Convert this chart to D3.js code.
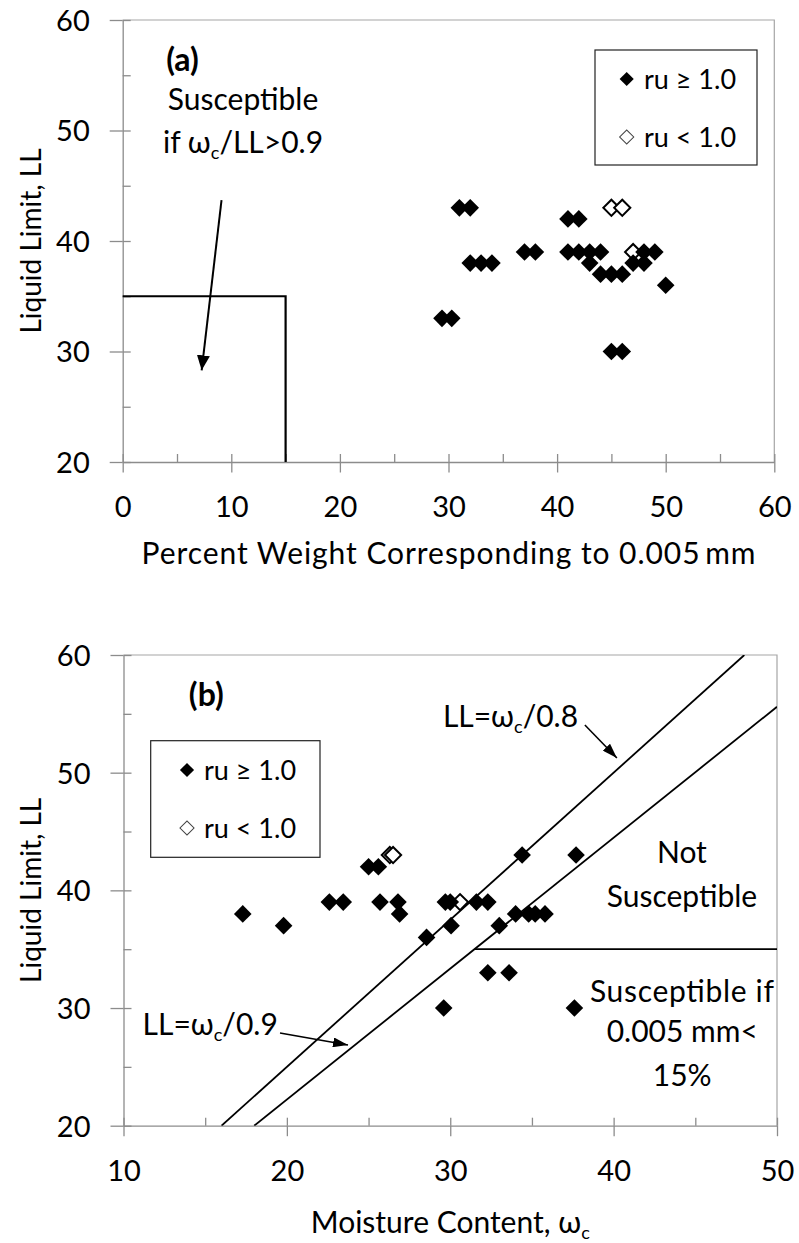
<!DOCTYPE html>
<html><head><meta charset="utf-8">
<script src="https://cdn.jsdelivr.net/npm/d3@7"></script>
<style>
body{margin:0;background:#fff;}
svg{display:block;}
text{font-family:Lato,"Open Sans",sans-serif;fill:#000;}
</style></head><body>
<svg id="c" width="799" height="1243"></svg>
<script>
// ---------- data: chart (a) ----------
const aFilledX = [29.4,30.3,31,32,32,33,34,37,38,41,42,41,42,43,44,43,44,45,46,47,48,48,49,50,45,46];
const aFilledY = [33,33,43,43,38,38,38,39,39,42,42,39,39,39,39,38,37,37,37,38,38,39,39,36,30,30];
const aOpenX = [45,46,47];
const aOpenY = [43,43,39];
const aBoundary = [[0,35],[15,35],[15,20]];
const aXMajor = [0,10,20,30,40,50,60];
const aXMinor = [5,15,25,35,45,55];
const aYMajor = [20,30,40,50,60];
const aYMinor = [25,35,45,55];
// ---------- data: chart (b) ----------
const bFilledX = [17.3,19.8,22.6,23.45,25,25.6,25.7,26.8,26.9,28.55,29.7,30.0,30.05,29.6,31.6,32.3,32.3,33.6,34.4,37.7,33,34,34.8,35.2,35.8,37.6];
const bFilledY = [38,37,39,39,42,42,39,39,38,36,39,39,37,30,39,39,33,33,43,43,37,38,38,38,38,30];
const bOpenX = [26.3,26.5,30.6];
const bOpenY = [43,43,39];
const bLine08 = [[16,20],[48,60]];
const bLine09 = [[18,20],[50,55.6]];
const bLine35 = [[31.5,35],[50,35]];
const bXMajor = [10,20,30,40,50];
const bXMinor = [15,25,35,45];
const bYMajor = [20,30,40,50,60];
const bYMinor = [25,35,45,55];
const legendLabels = ["ru \u2265 1.0","ru < 1.0"];

const svg = d3.select("#c");
const defs = svg.append("defs");
function mkArrow(id, len, wid){
  defs.append("marker").attr("id",id).attr("markerUnits","userSpaceOnUse")
    .attr("viewBox",`0 ${-wid/2} ${len} ${wid}`).attr("refX",len).attr("refY",0)
    .attr("markerWidth",len).attr("markerHeight",wid).attr("orient","auto")
    .append("path").attr("d",`M0,${-wid/2}L${len},0L0,${wid/2}Z`).attr("fill","#000");
}
mkArrow("arrA",15,13);
mkArrow("arrB",15,10);

const AX = "#8c8c8c";
const TFS = 29;   // tick labels
const FS = 30;    // annotations / x titles
const YFS = 28;   // y titles

function drawAxes(g, x, y, xMaj, xMin, yMaj, yMin, xTitleNode, yTitle, xLabelOff, xTitleY){
  const [x0,x1] = x.range(), [y0,y1] = y.range();
  g.append("path").attr("d",`M${x0},${y1}H${x1}V${y0}`).attr("fill","none").attr("stroke","#a6a6a6").attr("stroke-width",1.2);
  const gxi = g.append("g").attr("transform",`translate(0,${y0})`)
    .call(d3.axisBottom(x).tickValues(xMaj.concat(xMin)).tickSizeInner(-8).tickSizeOuter(0).tickFormat(""));
  gxi.select(".domain").remove();
  const gx = g.append("g").attr("transform",`translate(0,${y0})`)
    .call(d3.axisBottom(x).tickValues(xMaj).tickSizeInner(10.5).tickSizeOuter(0).tickFormat(d3.format("d")));
  gx.selectAll("text").attr("y",xLabelOff).attr("dy","0.36em").style("font-size",TFS+"px").style("font-family","Lato,'Open Sans',sans-serif").attr("fill","#000");
  const gyi = g.append("g").attr("transform",`translate(${x0},0)`)
    .call(d3.axisLeft(y).tickValues(yMaj.concat(yMin)).tickSizeInner(-8).tickSizeOuter(0).tickFormat(""));
  gyi.select(".domain").remove();
  const gy = g.append("g").attr("transform",`translate(${x0},0)`)
    .call(d3.axisLeft(y).tickValues(yMaj).tickSizeInner(13).tickSizeOuter(0).tickPadding(20).tickFormat(d3.format("d")));
  gy.selectAll("text").attr("dy","0.36em").style("font-size",TFS+"px").style("font-family","Lato,'Open Sans',sans-serif").attr("fill","#000");
  g.selectAll(".domain, .tick line").attr("stroke",AX).attr("stroke-width",1.3);
  g.append("text").attr("transform",`translate(31,${(y0+y1)/2}) rotate(-90)`)
    .attr("text-anchor","middle").attr("dy","0.36em").style("font-size",YFS+"px").text(yTitle);
  const t = g.append("text").attr("x",(x0+x1)/2).attr("y",xTitleY).attr("text-anchor","middle").style("font-size",FS+"px");
  xTitleNode(t);
}

function omegaText(t, before, after, fs){
  t.append("tspan").text(before);
  t.append("tspan").text("\u03c9");
  t.append("tspan").attr("dy",6).style("font-size",(fs*0.6)+"px").text("c");
  t.append("tspan").attr("dy",-6).text(after);
}

function diamond(size){ return d3.symbol(d3.symbolSquare, size)(); }

function drawPoints(g, x, y, fx, fy, ox, oy){
  const open = ox.map((v,i)=>({x:v,y:oy[i]}));
  const filled = fx.map((v,i)=>({x:v,y:fy[i]}));
  g.append("g").selectAll("path").data(open).join("path")
    .attr("d",diamond(130)).attr("transform",d=>`translate(${x(d.x)},${y(d.y)}) rotate(45)`)
    .attr("fill","#fff").attr("stroke","#000").attr("stroke-width",2);
  g.append("g").selectAll("path").data(filled).join("path")
    .attr("d",diamond(155)).attr("transform",d=>`translate(${x(d.x)},${y(d.y)}) rotate(45)`)
    .attr("fill","#000");
}

function drawLegend(g, bx, by, bw, bh, dx, ys, tx){
  g.append("rect").attr("x",bx).attr("y",by).attr("width",bw).attr("height",bh)
    .attr("fill","#fff").attr("stroke","#222").attr("stroke-width",1.2);
  legendLabels.forEach((lab,i)=>{
    g.append("path").attr("d",diamond(100)).attr("transform",`translate(${dx},${ys[i]}) rotate(45)`)
      .attr("fill",i===0?"#000":"#fff").attr("stroke",i===0?"none":"#444").attr("stroke-width",1);
    g.append("text").attr("x",tx).attr("y",ys[i]).attr("dy","0.36em").style("font-size","27px").text(lab);
  });
}

// ================= Chart (a) =================
{
  const g = svg.append("g");
  const x = d3.scaleLinear().domain([0,60]).range([122.7,774.3]);
  const y = d3.scaleLinear().domain([20,60]).range([462,20]);
  drawAxes(g,x,y,aXMajor,aXMinor,aYMajor,aYMinor,
    t=>t.attr("textLength",614).attr("lengthAdjust","spacing").text("Percent Weight Corresponding to 0.005\u2009mm"),"Liquid Limit, LL",45,564);
  const line = d3.line().x(d=>x(d[0])).y(d=>y(d[1]));
  g.append("path").attr("d",line(aBoundary)).attr("fill","none").attr("stroke","#000").attr("stroke-width",2.2);
  g.append("line").attr("x1",x(9.1)).attr("y1",y(43.7)).attr("x2",x(7.27)).attr("y2",y(28.3))
    .attr("stroke","#000").attr("stroke-width",2).attr("marker-end","url(#arrA)");
  g.append("text").attr("x",x(4.0)).attr("y",y(55.4)).style("font-size","32px").style("font-weight","bold").text("(a)");
  g.append("text").attr("x",x(11.08)).attr("y",y(51.86)).attr("text-anchor","middle").style("font-size",FS+"px").text("Susceptible");
  omegaText(g.append("text").attr("x",x(11.08)).attr("y",y(47.94)).attr("text-anchor","middle").style("font-size",FS+"px"),"if ","/LL>0.9",FS);
  drawPoints(g,x,y,aFilledX,aFilledY,aOpenX,aOpenY);
  drawLegend(g,595,50,162,115,626.7,[79,137],644);
}

// ================= Chart (b) =================
{
  const g = svg.append("g");
  const x = d3.scaleLinear().domain([10,50]).range([123.5,777]);
  const y = d3.scaleLinear().domain([20,60]).range([1125.7,655]);
  drawAxes(g,x,y,bXMajor,bXMinor,bYMajor,bYMinor,
    t=>omegaText(t,"Moisture Content, ","",FS),"Liquid Limit, LL",44.5,1233);
  const line = d3.line().x(d=>x(d[0])).y(d=>y(d[1]));
  defs.append("clipPath").attr("id","clipB").append("rect")
    .attr("x",x(10)).attr("y",y(60)).attr("width",x(50)-x(10)).attr("height",y(20)-y(60));
  const lg = g.append("g").attr("clip-path","url(#clipB)");
  [bLine08,bLine09,bLine35].forEach(L=>{
    lg.append("path").attr("d",line(L)).attr("fill","none").attr("stroke","#000").attr("stroke-width",1.8);
  });
  g.append("line").attr("x1",x(38.24)).attr("y1",y(54.05)).attr("x2",x(40.2)).attr("y2",y(51.25))
    .attr("stroke","#000").attr("stroke-width",1.6).attr("marker-end","url(#arrB)");
  g.append("line").attr("x1",x(19.58)).attr("y1",y(27.88)).attr("x2",x(23.74)).attr("y2",y(26.86))
    .attr("stroke","#000").attr("stroke-width",1.6).attr("marker-end","url(#arrB)");
  g.append("text").attr("x",x(14.0)).attr("y",y(55.67)).style("font-size","32px").style("font-weight","bold").text("(b)");
  omegaText(g.append("text").attr("x",x(29.55)).attr("y",y(53.88)).style("font-size",FS+"px"),"LL=","/0.8",FS);
  omegaText(g.append("text").attr("x",x(11.17)).attr("y",y(27.71)).style("font-size",FS+"px"),"LL=","/0.9",FS);
  g.append("text").attr("x",x(44.18)).attr("y",y(42.33)).attr("text-anchor","middle").style("font-size",FS+"px").text("Not");
  g.append("text").attr("x",x(44.18)).attr("y",y(38.59)).attr("text-anchor","middle").style("font-size",FS+"px").text("Susceptible");
  g.append("text").attr("x",x(38.55)).attr("y",y(30.52)).style("font-size",FS+"px").attr("textLength",184).attr("lengthAdjust","spacing").text("Susceptible if");
  g.append("text").attr("x",x(44.2)).attr("y",y(27.14)).attr("text-anchor","middle").style("font-size",FS+"px").text("0.005 mm<");
  g.append("text").attr("x",x(44.2)).attr("y",y(23.38)).attr("text-anchor","middle").style("font-size",FS+"px").text("15%");
  drawPoints(g,x,y,bFilledX,bFilledY,bOpenX,bOpenY);
  drawLegend(g,150.7,740.7,169.3,116.6,187,[770,828],204);
}
</script>
</body></html>
